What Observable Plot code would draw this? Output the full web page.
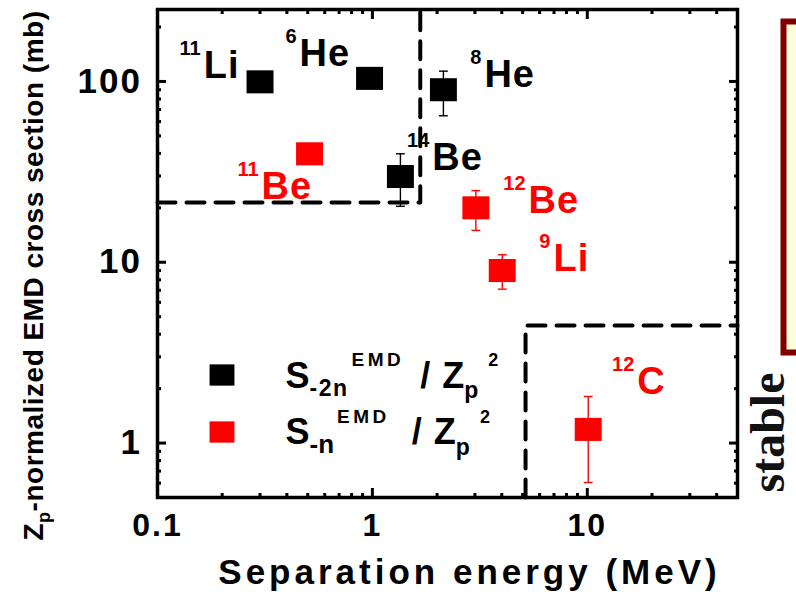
<!DOCTYPE html>
<html><head><meta charset="utf-8">
<script src="https://cdn.jsdelivr.net/npm/d3@7"></script>
<script src="https://cdn.jsdelivr.net/npm/@observablehq/plot@0.6"></script>
<style>
body{margin:0;background:#fff}
</style></head><body><div id="chart"></div>
<script>
// ---- data ----
const nuclides = ["11Li","6He","8He","14Be","11Be","12Be","9Li","12C"];
const massNumbers = ["11","6","8","14","11","12","9","12"];
const symbols = ["Li","He","He","Be","Be","Be","Li","C"];
const channel = ["-2n","-2n","-2n","-2n","-n","-n","-n","-n"];
const separationEnergy = [0.30, 0.97, 2.14, 1.35, 0.51, 3.03, 4.02, 10.1];   // MeV
const crossSection = [99.5, 104, 90, 29.8, 39.8, 20.0, 9.0, 1.19];          // mb
const errLow  = [null, null, 64.6, 20.4, null, 15.0, 7.1, 0.605];
const errHigh = [null, null, 114, 39.8, null, 24.9, 11.0, 1.81];
// label anchors (data coordinates)
const labelX = [0.164, 0.458, 3.32, 1.90, 0.305, 5.33, 6.96, 17.1];
const labelY = [105, 122, 92.6, 32.2, 22.5, 18.8, 9.0, 1.88];
const seriesNames = ["-2n","-n"];
const seriesColors = ["#000000","#ff0000"];
// region boundaries (data coordinates)
const haloBoxX = [0.1, 1.67, 1.67];
const haloBoxY = [21.4, 21.4, 250];
const stableBoxX = [5.16, 5.16, 50];
const stableBoxY = [0.5, 4.47, 4.47];
// ticks
const xTicksMajor = [0.1, 1, 10];
const xTicksMinor = [0.2,0.3,0.4,0.5,0.6,0.7,0.8,0.9,2,3,4,5,6,7,8,9,20,30,40];
const yTicksMajor = [1, 10, 100];
const yTicksMinor = [0.6,0.7,0.8,0.9,2,3,4,5,6,7,8,9,20,30,40,50,60,70,80,90,200];
const xTitle = "Separation energy (MeV)";
const yTitle = "Zp-normalized EMD cross section (mb)";
const legendTexts = ["S-2nEMD / Zp2", "S-nEMD / Zp2"];

const colorOf = s => seriesColors[seriesNames.indexOf(s)];
const points = nuclides.map((n, i) => ({
  nuclide: n, mass: massNumbers[i], symbol: symbols[i], series: channel[i],
  x: separationEnergy[i], y: crossSection[i], lo: errLow[i], hi: errHigh[i],
  lx: labelX[i], ly: labelY[i], color: colorOf(channel[i])
}));
const errs = points.filter(d => d.lo != null);
const haloBox = haloBoxX.map((x, i) => ({x, y: haloBoxY[i]}));
const stableBox = stableBoxX.map((x, i) => ({x, y: stableBoxY[i]}));

const rectSym = {draw(ctx, size) { const h = Math.sqrt(size) / 2, w = h * 1.17; ctx.rect(-w, -h, 2 * w, 2 * h); }};
const capSym = {draw(ctx, size) { const w = Math.sqrt(size) / 2; ctx.moveTo(-w, 0); ctx.lineTo(w, 0); }};
const blank = () => "";
const SANS = "Liberation Sans, Arial, sans-serif";
const ax = {strokeWidth: 3, label: null, fontFamily: SANS, fontWeight: "bold", fontVariant: "normal"};

const plot = Plot.plot({
  width: 796, height: 592,
  marginLeft: 157, marginRight: 59, marginTop: 9, marginBottom: 95,
  x: {type: "log", domain: [0.1, 50], label: null},
  y: {type: "log", domain: [0.5, 250], label: null},
  color: {type: "identity"},
  style: {fontFamily: SANS, fontWeight: "bold", color: "black", background: "white"},
  marks: [
    // panel box to the right (partially visible)
    Plot.frame({fill: "#ffffdb", stroke: "#800000", strokeWidth: 6, insetLeft: 626, insetRight: -120, insetTop: 12, insetBottom: 145}),
    Plot.text(["stable"], {frameAnchor: "top-right", dx: 46, dy: 423, rotate: -90, lineAnchor: "bottom", textAnchor: "middle",
      fontFamily: "Liberation Serif, Times New Roman, serif", fontSize: 48, fontWeight: "bold", fill: "#111"}),
    // region boundaries
    Plot.line(haloBox, {x: "x", y: "y", stroke: "black", strokeWidth: 4, strokeDasharray: "18,11"}),
    Plot.line(stableBox, {x: "x", y: "y", stroke: "black", strokeWidth: 4, strokeDasharray: "18,11"}),
    // error bars
    Plot.ruleX(errs, {x: "x", y1: "lo", y2: "hi", stroke: "color", strokeWidth: 1.4}),
    Plot.dot(errs, {x: "x", y: "lo", symbol: capSym, r: 5, fill: "none", stroke: "color", strokeWidth: 1.4}),
    Plot.dot(errs, {x: "x", y: "hi", symbol: capSym, r: 5, fill: "none", stroke: "color", strokeWidth: 1.4}),
    // data
    Plot.dot(points, {x: "x", y: "y", symbol: rectSym, r: 13, fill: "color", stroke: "none"}),
    // nuclide labels
    Plot.text(points, {x: "lx", y: "ly", text: "symbol", fill: "color", textAnchor: "start", lineAnchor: "bottom", fontSize: 38}),
    Plot.text(points, {x: "lx", y: "ly", text: "mass", fill: "color", textAnchor: "end", lineAnchor: "bottom", fontSize: 20, dx: -3, dy: -23}),
    // legend
    Plot.dot([seriesNames[0]], {frameAnchor: "top-left", dx: 64.5, dy: 365.5, symbol: rectSym, r: 12, fill: seriesColors[0]}),
    Plot.dot([seriesNames[1]], {frameAnchor: "top-left", dx: 64.5, dy: 422.5, symbol: rectSym, r: 12, fill: seriesColors[1]}),
    Plot.text([legendTexts[0]], {frameAnchor: "top-left", dx: 128, dy: 378, lineAnchor: "bottom", textAnchor: "start", fontSize: 36, fill: "black"}),
    Plot.text([legendTexts[1]], {frameAnchor: "top-left", dx: 128, dy: 434, lineAnchor: "bottom", textAnchor: "start", fontSize: 36, fill: "black"}),
    // axes: bottom/left with labels, top/right mirrored
    Plot.axisX(xTicksMajor, {...ax, anchor: "bottom", tickSize: -9, tickPadding: 25, fontSize: 32, tickFormat: d => String(d)}),
    Plot.axisX(xTicksMinor, {...ax, anchor: "bottom", tickSize: -4, tickFormat: blank}),
    Plot.axisX(xTicksMajor, {...ax, anchor: "top", tickSize: -9, tickFormat: blank}),
    Plot.axisX(xTicksMinor, {...ax, anchor: "top", tickSize: -4, tickFormat: blank}),
    Plot.axisY(yTicksMajor, {...ax, anchor: "left", tickSize: -9, tickPadding: 24.5, fontSize: 35, tickFormat: d => String(d)}),
    Plot.axisY(yTicksMinor, {...ax, anchor: "left", tickSize: -4, tickFormat: blank}),
    Plot.axisY(yTicksMajor, {...ax, anchor: "right", tickSize: -9, tickFormat: blank}),
    Plot.axisY(yTicksMinor, {...ax, anchor: "right", tickSize: -4, tickFormat: blank}),
    Plot.frame({stroke: "black", strokeWidth: 3.5}),
    // axis titles
    Plot.text([xTitle], {frameAnchor: "bottom", dx: 22, dy: 86, lineAnchor: "bottom", textAnchor: "middle", fontSize: 35}),
    Plot.text([yTitle], {frameAnchor: "left", dx: -115, dy: 22, rotate: -90, lineAnchor: "bottom", textAnchor: "middle", fontSize: 28})
  ]
});

// ---- rich text (sub/superscripts) and spacing ----
const allText = () => [...plot.querySelectorAll("text")];
function richText(content, parts) {
  for (const t of allText().filter(t => t.textContent === content)) {
    t.textContent = "";
    for (const p of parts) {
      const ts = document.createElementNS("http://www.w3.org/2000/svg", "tspan");
      ts.textContent = p.t;
      if (p.size) ts.setAttribute("font-size", p.size);
      if (p.dy) ts.setAttribute("dy", p.dy);
      if (p.dx) ts.setAttribute("dx", p.dx);
      if (p.ls != null) ts.style.letterSpacing = p.ls + "px";
      t.appendChild(ts);
    }
  }
}
function spacing(pred, px) { for (const t of allText().filter(pred)) t.style.letterSpacing = px + "px"; }
spacing(t => t.textContent === xTitle, 4);
spacing(t => t.textContent === yTitle, 0.5);
spacing(t => ["0.1", "1", "10", "100"].includes(t.textContent), 2);
spacing(t => symbols.includes(t.textContent), 1);
richText(yTitle, [
  {t: "Z"}, {t: "p", size: 18, dy: 7}, {t: yTitle.slice(2), dy: -7}
]);
richText(legendTexts[0], [
  {t: "S"}, {t: "-2n", size: 23, dy: 8, ls: 1.5}, {t: "EMD", size: 19, dy: -30, dx: 3, ls: 3.5},
  {t: "/", size: 36, dy: 22, dx: 16}, {t: "Z", size: 36, dx: 12}, {t: "p", size: 23, dy: 10}, {t: "2", size: 18, dy: -32, dx: 10}
]);
richText(legendTexts[1], [
  {t: "S"}, {t: "-n", size: 26, dy: 9}, {t: "EMD", size: 19, dy: -30, dx: 3, ls: 3.5},
  {t: "/", size: 36, dy: 21, dx: 22}, {t: "Z", size: 36, dx: 12}, {t: "p", size: 23, dy: 11}, {t: "2", size: 18, dy: -32, dx: 10}
]);
document.getElementById("chart").appendChild(plot);
</script></body></html>
